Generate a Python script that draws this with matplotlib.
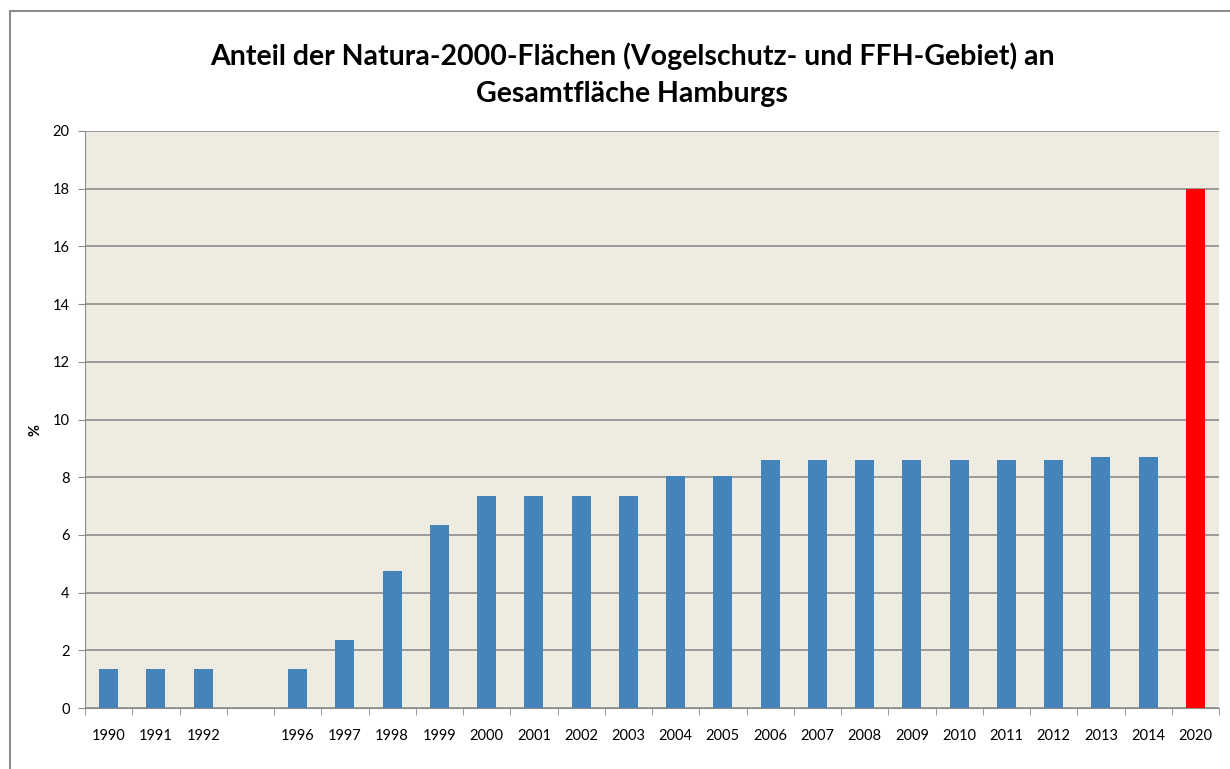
import matplotlib.pyplot as plt
from matplotlib.patches import Rectangle

years = ['1990', '1991', '1992', '', '1996', '1997', '1998', '1999', '2000', '2001',
         '2002', '2003', '2004', '2005', '2006', '2007', '2008', '2009', '2010',
         '2011', '2012', '2013', '2014', '2020']
anteil = [1.35, 1.35, 1.35, 0, 1.35, 2.35, 4.75, 6.35, 7.35, 7.35,
          7.35, 7.35, 8.05, 8.05, 8.6, 8.6, 8.6, 8.6, 8.6,
          8.6, 8.6, 8.7, 8.7, 18.0]

colors = ['#4484BA'] * (len(years) - 1) + ['#FF0000']

plt.rcParams['font.family'] = ['Lato', 'DejaVu Sans']

fig = plt.figure(figsize=(12.3, 7.69), dpi=100)
ax = fig.add_axes([85 / 1230, 1 - 708 / 769, (1219 - 85) / 1230, (708 - 131) / 769])

x = list(range(len(years)))
ax.bar(x, anteil, width=0.4, color=colors, zorder=3)

ax.set_xlim(-0.5, len(years) - 0.5)
ax.set_ylim(0, 20)
ax.set_yticks(range(0, 21, 2))
ax.set_facecolor('#EEEBE0')
ax.grid(axis='y', color='#8C8C8C', lw=1.2, zorder=1)

ax.set_xticks(x)
ax.set_xticklabels(years, fontsize=10.5)
ax.set_xticks([i - 0.5 for i in range(len(years) + 1)], minor=True)
ax.tick_params(axis='x', which='major', length=0, pad=15)
ax.tick_params(axis='x', which='minor', length=5, color='#8C8C8C')
ax.tick_params(axis='y', labelsize=10.5, length=5, color='#8C8C8C', pad=6)

for side in ['top', 'right']:
    ax.spines[side].set_visible(False)
ax.spines['left'].set_color('#8C8C8C')
ax.spines['bottom'].set_color('#8C8C8C')

# y label placed by hand like the Excel original
fig.text(35 / 1230, 1 - 430 / 769, '%', rotation=90, ha='center', va='center',
         fontsize=10.5, fontweight='bold')

fig.text(632 / 1230, 1 - 56 / 769, 'Anteil der Natura-2000-Flächen (Vogelschutz- und FFH-Gebiet) an',
         ha='center', va='center', fontsize=20.5, fontweight='bold')
fig.text(632 / 1230, 1 - 94 / 769, 'Gesamtfläche Hamburgs',
         ha='center', va='center', fontsize=20.5, fontweight='bold')

fig.patches.append(Rectangle((10 / 1230, -0.05), 1.2, 1 - 11 / 769 + 0.05,
                             transform=fig.transFigure, fill=False,
                             edgecolor='#8C8C8C', lw=1.5))

fig.savefig('out.png', dpi=100)
